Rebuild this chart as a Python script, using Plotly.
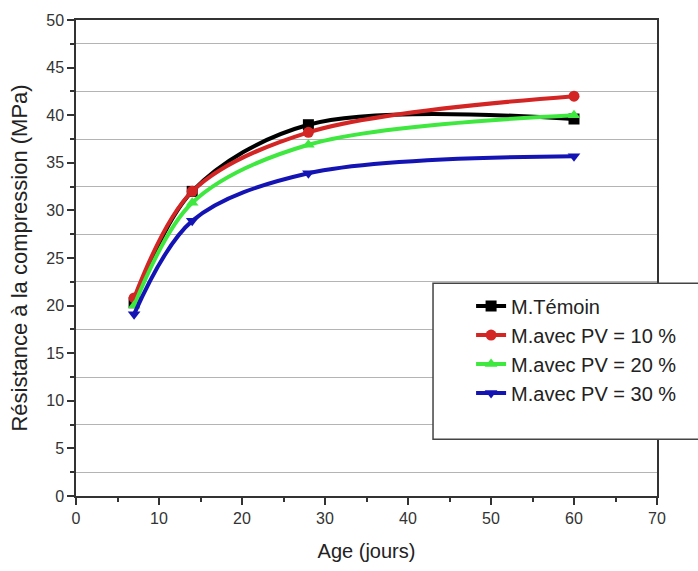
import plotly.graph_objects as go

# Compressive strength of mortars vs. curing age
age_days = [7, 14, 28, 60]
temoin = [20.3, 32.0, 39.0, 39.6]
pv10 = [20.8, 32.0, 38.2, 42.0]
pv20 = [20.0, 30.8, 36.9, 40.0]
pv30 = [19.1, 28.9, 33.9, 35.7]

series_names = ["M.Témoin", "M.avec PV = 10 %", "M.avec PV = 20 %", "M.avec PV = 30 %"]
series_values = [temoin, pv10, pv20, pv30]
colors = ["#000000", "#d42525", "#3ee83e", "#1414b4"]
symbols = ["square", "circle", "triangle-up", "triangle-down"]

FONT = "Liberation Sans, Arial, sans-serif"

fig = go.Figure()
for name, vals, col, sym in zip(series_names, series_values, colors, symbols):
    fig.add_trace(go.Scatter(
        x=age_days, y=vals, name=name, mode="lines+markers",
        line=dict(color=col, width=4, shape="spline", smoothing=0.95),
        marker=dict(symbol=sym, size=11, color=col),
    ))

axis_common = dict(
    showline=True, linecolor="#333333", linewidth=1.5, mirror=True,
    ticks="outside", ticklen=7, tickwidth=1.5, tickcolor="#333333",
    showgrid=False, zeroline=False,
    tickfont=dict(family=FONT, size=16, color="#333333"),
)

fig.update_xaxes(
    range=[0, 70], dtick=10, tick0=0,
    title=dict(text="Age (jours)", font=dict(family=FONT, size=20, color="#222222"), standoff=18),
    minor=dict(dtick=5, ticks="outside", ticklen=4, tickcolor="#333333", tickwidth=1.5, showgrid=False),
    **axis_common,
)
fig.update_yaxes(
    range=[0, 50], dtick=5, tick0=0,
    title=dict(text="Résistance à la compression (MPa)", font=dict(family=FONT, size=22, color="#222222"), standoff=13),
    minor=dict(dtick=2.5, ticks="outside", ticklen=4, tickcolor="#333333", tickwidth=1.5,
               showgrid=True, gridcolor="#b4b4b4", gridwidth=1),
    **axis_common,
)

# Legend frame (extends past the plot's right edge)
fig.add_shape(type="rect", xref="paper", yref="paper",
              x0=0.6145, x1=1.15, y0=0.119, y1=0.447,
              line=dict(color="#444444", width=1.5), fillcolor="white", layer="above")

fig.update_layout(
    width=698, height=571,
    margin=dict(l=76, r=41, t=20, b=72),
    paper_bgcolor="white", plot_bgcolor="white",
    showlegend=True,
    legend=dict(
        x=0.68, y=0.44, xanchor="left", yanchor="top",
        bgcolor="rgba(0,0,0,0)", borderwidth=0,
        font=dict(family=FONT, size=20, color="#222222"),
        tracegroupgap=0, itemwidth=30,
    ),
)

fig.write_html("out.html")
